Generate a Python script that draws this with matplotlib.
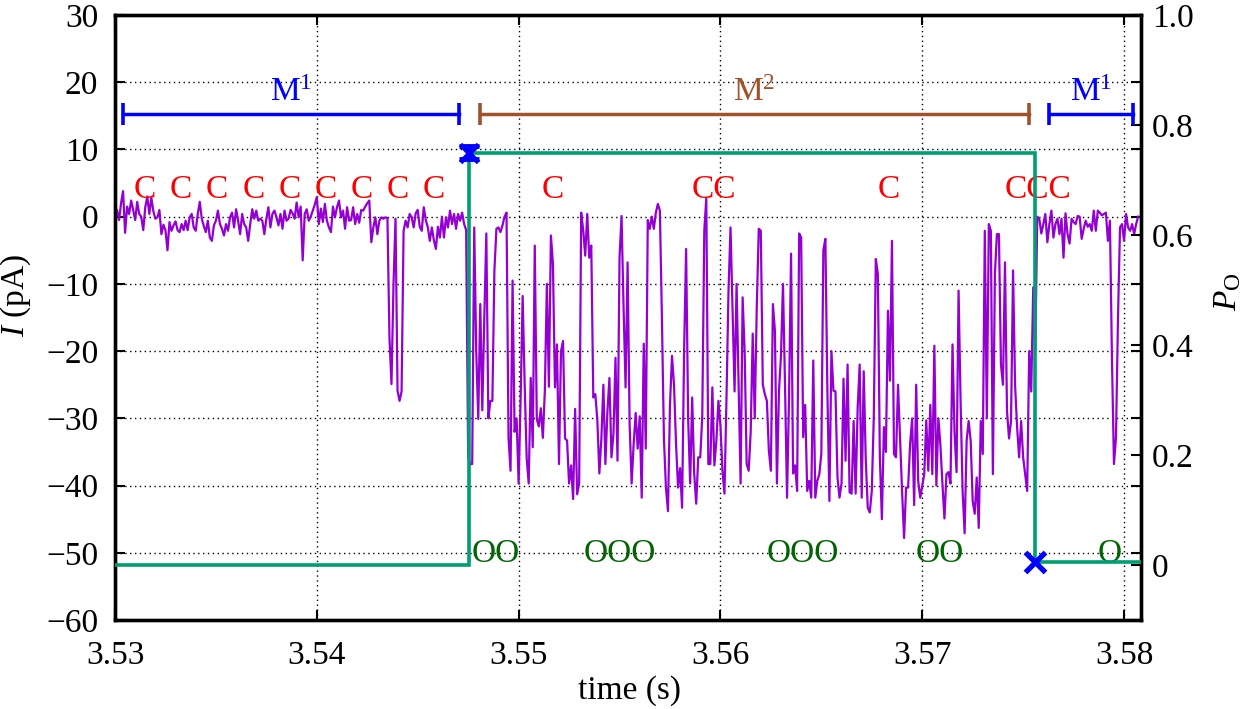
import numpy as np
import matplotlib
matplotlib.use("Agg")
import matplotlib.pyplot as plt

plt.rcParams['font.family'] = ['Liberation Serif', 'DejaVu Serif']
plt.rcParams['mathtext.fontset'] = 'custom'
plt.rcParams['mathtext.rm'] = 'Liberation Serif'
plt.rcParams['mathtext.it'] = 'Liberation Serif:italic'

# ---------------- data ----------------
trace_t0 = 3.5300      # s, first sample
trace_dt = 0.0001      # s, sampling interval
current_pA = [
    0.5, 1.0, -0.5, 2.0, 3.8, -2.4, 1.5, 0.4, 2.4, 1.0,
    -0.5, 2.2, 0.4, 0.0, -2.0, 1.4, 3.0, 0.4, 2.8, 0.8,
    -0.3, -0.1, 1.0, -2.6, -1.2, -2.0, -5.0, -0.8, -2.1, -1.3,
    -0.7, -2.0, -2.3, -1.1, -2.0, -0.6, -2.0, -0.1, 0.4, -1.6,
    -2.1, 0.4, 2.2, -0.3, -1.4, -2.3, -0.6, -3.1, -3.6, -1.3,
    -0.6, 0.9, -1.1, -1.8, -2.8, -1.1, -2.1, -0.1, 0.6, -1.6,
    1.1, -0.6, -2.6, 0.4, -1.1, -1.6, -3.6, -1.1, 1.1, -0.3,
    0.9, -0.6, -0.3, -0.6, -2.6, -0.3, 1.4, -1.6, 0.4, 0.9,
    -0.1, -1.3, 0.4, -1.8, 0.9, -0.6, -0.3,
    1.0, 0.5, -0.3, 2.1, -0.1, 1.5, -6.5, 0.4, 1.1, -0.6,
    0.0, 0.9, 1.8, 2.9, -1.1, 1.2, -0.8, 1.9, -0.6, -1.6,
    -2.3, 1.5, -0.1, 1.4, 2.4, -0.1, 0.9, -1.8, 1.4, -0.6,
    -0.5, 1.4, -1.1, 0.4, -0.9, 1.0, 0.9, 1.5, 2.0, 2.4,
    -3.8, -1.6, -0.1, -2.6, -0.6, -0.1, -0.3, -0.1, -0.2, -18.0,
    -24.9, -10.0, -0.3, -25.9, -27.4, -26.0, -2.1, -0.6, -1.6, 0.4,
    -0.1, -1.6, 0.5, 1.0, -1.5, -2.1, 1.4, -0.5, -1.6, -3.6,
    -1.6, -3.5, -4.8, -1.5, -3.1, 0.0, -3.1, -0.1, -1.6, 0.9,
    -1.1, 0.4, -1.8, 0.4, -0.6, 0.6, -1.1,
    -2.0, -35.8, -36.8, -36.8, -1.6, -20.0, -30.1, -13.0, -28.8, -15.0,
    -2.5, -30.0, -27.4, -27.4, -8.0, -1.8,
    -1.6, -2.3, -1.3, 0.0, 0.6, -32.9, -37.8, -9.5, -32.0, -30.0,
    -39.7, -27.0, -11.8, -25.0, -36.0, -39.7, -24.0, -34.3, -4.3, -30.1,
    -31.2, -28.5, -32.9, -25.9, -10.0, -25.3, -2.8, -7.0, -25.4, -19.0,
    -36.8, -20.0, -18.5, -33.0, -33.3, -39.7, -37.0, -42.0, -28.6, -41.3,
    -39.7, 0.6, -2.0, -5.8, 0.4, -6.1, -4.3, -26.9, -26.4, -30.2,
    -38.2, -33.0, -25.0, -36.8, -29.0, -24.0, -35.8, -32.3, -21.0, -36.3,
    -6.1, 0.1, -13.5, -25.4, -6.8, -30.8, -39.7, -33.8, -29.2, -34.5,
    -29.7, -41.8, -18.9, -34.5, -0.5, -1.8, 0.0, -1.8, 0.6, 1.9,
    0.9, -15.0, -33.0, -40.3, -43.8, -28.0, -20.7, -25.0, -33.8, -40.3,
    -37.4, -43.3, -20.0, -4.8, -30.0, -39.7, -26.9, -38.2, -42.7, -35.8,
    -35.8, -29.7, -2.1, 2.8, -36.8, -36.8, -25.4, -37.0, -33.3, -27.4,
    -31.0, -37.8, -41.2, -27.0, -11.0, -1.6, -14.0, -26.0, -10.0, -24.9,
    -39.7, -12.0, -20.0, -36.8, -37.8, -32.0, -17.4, -30.0, -13.5, -1.8,
    -2.1, -25.0, -26.4, -27.4, -34.8, -37.8, -13.0, -17.0, -39.7, -26.0,
    -20.7, -10.0, -25.0, -41.8, -26.9, -5.5, -38.2, -37.0, -40.8, -2.5,
    -3.1, -32.8, -28.0, -40.8, -39.3, -41.8, -21.4, -41.8, -39.3, -38.3,
    -35.3, -5.0, -3.3, -26.0, -42.3, -20.0, -25.9, -26.0, -38.8, -41.8,
    -39.7, -24.1, -36.3, -22.0, -41.0, -41.2, -30.4, -41.2, -28.4, -22.0,
    -41.8, -23.0, -36.0, -43.3, -44.0, -40.8, -29.7, -6.3, -8.5, -35.8,
    -45.0, -31.3, -35.0, -14.0, -24.4, -3.6, -35.3, -35.8, -25.0, -33.0,
    -40.8, -47.8, -40.3, -40.3, -33.8, -30.0, -42.9, -25.0, -39.3, -41.8,
    -40.0, -38.3, -30.3, -37.8, -28.0, -38.3, -19.2, -40.0, -30.0, -34.0,
    -39.7, -44.9, -38.3, -38.0, -39.7, -19.0, -32.0, -38.0, -11.0, -27.4,
    -40.8, -47.1, -33.3, -30.4, -33.3, -42.3, -44.2, -38.8, -46.3, -30.4,
    -35.3, -2.1, -30.0, -1.1, -2.1, -38.3, -8.5, -2.6, -2.6, -22.0,
    -25.0, -6.8, -28.9, -33.0, -30.4, -8.0, -25.0, -31.3, -35.8, -30.4,
    -35.8, -38.3, -40.8, -20.0, -26.0, -10.5, -20.0, 0.0, -0.3, -2.5,
    -1.1, 0.4, -3.8, -1.1, 0.9, -3.1, -1.1, -0.3, -2.6, -0.3,
    -6.1, 0.5, -2.6, -4.0, -0.3, -0.8, -1.1, 0.1, 0.0, -3.3,
    -1.8, -0.6, -1.5, -1.1, -2.1, 0.9, -2.1, 0.9, 0.6, 0.2,
    0.4, 0.6, -3.6, -0.6, -21.0, -36.8, -32.8, -15.0, -1.6, -1.1,
    -3.6, 0.4, -1.6, -2.1, -1.1, -2.6, -1.1, 0.0,
]

# open probability (right axis), piecewise constant
po_edges = [3.5300, 3.54754, 3.57559, 3.58084]
po_values = [0.0, 0.75, 0.006]
change_times = [3.54754, 3.57559]
change_po = [0.75, 0.006]

# model segments
seg_labels = ['M$^1$', 'M$^2$', 'M$^1$']
seg_start = [3.53038, 3.54809, 3.57626]
seg_end = [3.54706, 3.57527, 3.58045]
seg_colors = ['#0000ff', '#a0522d', '#0000ff']
seg_level = 0.82
seg_label_level = 0.844

# closed / open annotations
c_labels = ['C'] * 9 + ['C', 'CC', 'C', 'CCC']
c_times = [3.53149, 3.53327, 3.53505, 3.53689, 3.53867, 3.54046, 3.54224,
           3.54402, 3.54581, 3.55168, 3.55968, 3.56835, 3.57576]
c_level = 2.8
o_labels = ['OO', 'OOO', 'OOO', 'OO', 'O']
o_times = [3.54888, 3.55502, 3.56409, 3.57088, 3.57931]
o_level = -51.3

x_ticks = [3.53, 3.54, 3.55, 3.56, 3.57, 3.58]
x_ticklabels = ['3.53', '3.54', '3.55', '3.56', '3.57', '3.58']
y_ticks = [-60, -50, -40, -30, -20, -10, 0, 10, 20, 30]
y2_ticks = [0, 0.2, 0.4, 0.6, 0.8, 1.0]
y2_ticklabels = ['0', '0.2', '0.4', '0.6', '0.8', '1.0']

FS = 24

# ---------------- figure ----------------
W, H = 1254, 709
fig = plt.figure(figsize=(W / 100, H / 100), dpi=100)
ax = fig.add_axes([115 / W, 1 - 620 / H, (1141 - 115) / W, (620 - 15) / H])
ax2 = ax.twinx()

t = trace_t0 + trace_dt * np.arange(len(current_pA))
ax.plot(t, current_pA, color='#9400d3', lw=1.6, zorder=3)

ax.set_xlim(3.5300, 3.58084)
ax.set_ylim(-60, 30)
ax2.set_ylim(-0.1, 1.0)

ax.set_xticks(x_ticks)
ax.set_xticklabels(x_ticklabels)
ax.set_yticks(y_ticks)
ax2.set_yticks(y2_ticks)
ax2.set_yticklabels(y2_ticklabels)

ax.grid(True, linestyle=(0, (1, 2.5)), color='black', lw=1.0)
ax2.grid(False)

ax.tick_params(axis='both', direction='in', length=7.5, width=1.5,
               labelsize=FS, top=True, right=True)
ax.tick_params(axis='x', pad=15)
ax.tick_params(axis='y', pad=12)
ax2.tick_params(axis='y', direction='in', length=7.5, width=1.5,
                labelsize=FS, pad=8, left=False, right=True)

for a in (ax, ax2):
    for sp in a.spines.values():
        sp.set_linewidth(2.4)
        sp.set_color('black')

# C / O annotations
for lab, tt in zip(c_labels, c_times):
    ax.text(tt, c_level, lab, color='#ff0000', fontsize=FS,
            ha='center', va='baseline', zorder=4)
for lab, tt in zip(o_labels, o_times):
    ax.text(tt, o_level, lab, color='#006400', fontsize=FS,
            ha='center', va='baseline', zorder=4)

# open probability step
ax2.stairs(po_values, po_edges, baseline=None, color='#009e73', lw=2.6, zorder=5)
ax2.errorbar([change_times[0]], [change_po[0]], yerr=[0.012], fmt='x',
             color='#0000ff', ms=13, mew=3.5, elinewidth=3, capsize=7,
             capthick=3, zorder=6)
ax2.plot([change_times[1]], [change_po[1]], 'x', color='#0000ff',
         ms=14, mew=3.8, zorder=6)

# model segments
for lab, s, e, c in zip(seg_labels, seg_start, seg_end, seg_colors):
    ax2.plot([s, e], [seg_level, seg_level], color=c, lw=2.5,
             marker='|', ms=16, mew=2.6, zorder=5)
    ax2.text((s + e) / 2, seg_label_level, lab, color=c, fontsize=FS,
             ha='center', va='baseline')

# axis labels
fig.text(629 / W, 1 - 691 / H, 'time (s)', fontsize=FS, ha='center', va='center')
fig.text(16 / W, 1 - 295 / H, r'$I$ (pA)', fontsize=FS, ha='center',
         va='center', rotation=90)
fig.text(1228 / W, 1 - 292 / H, r'$P_{\mathrm{O}}$', fontsize=FS,
         ha='center', va='center', rotation=90)

fig.savefig('out.png', dpi=100)
